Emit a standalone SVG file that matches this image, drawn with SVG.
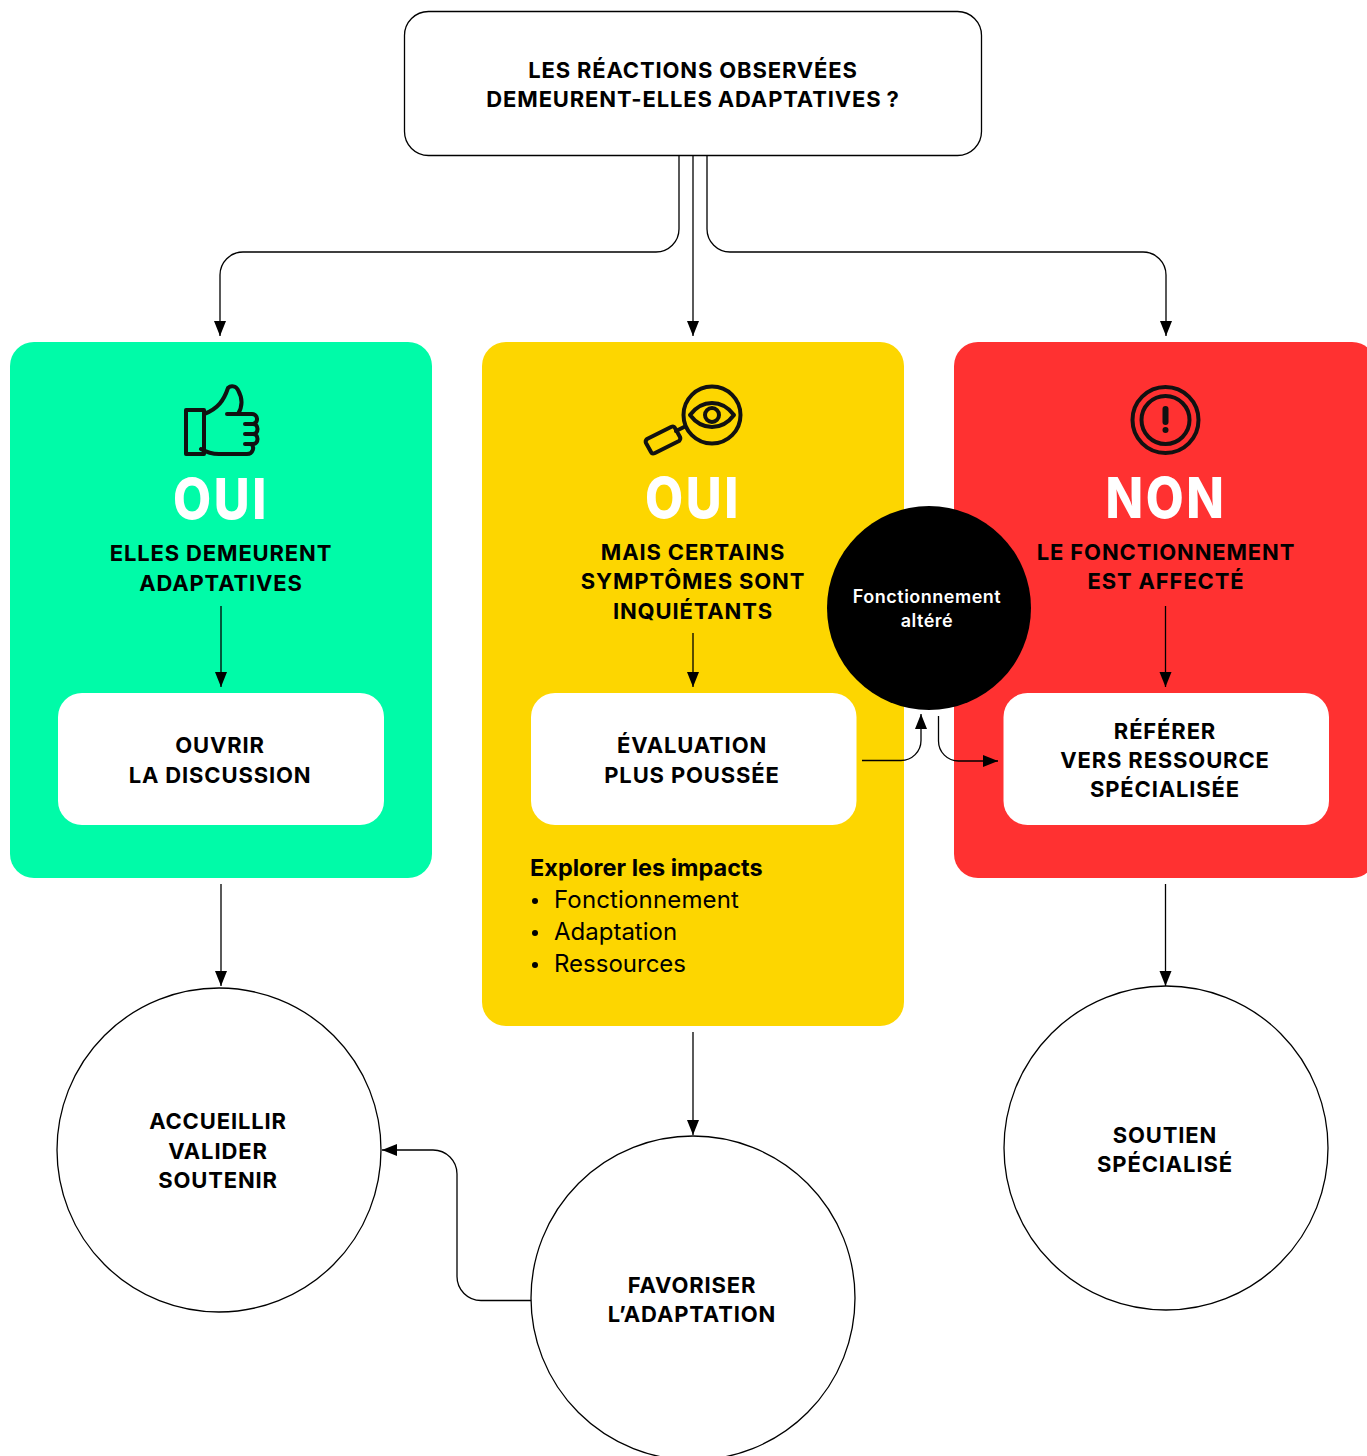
<svg xmlns="http://www.w3.org/2000/svg" width="1367" height="1456" viewBox="0 0 1367 1456">
<style>
text{font-family:"Inter","Liberation Sans",sans-serif;text-anchor:middle;fill:#000}
.t{font-size:22px;font-weight:700;letter-spacing:.85px}
.h{font-size:56px;font-weight:800;fill:#fff;letter-spacing:3px}
.l{font-size:24px;text-anchor:start;letter-spacing:0}
.c{fill:none;stroke:#000;stroke-width:1.3}
.i{fill:none;stroke:#111;stroke-width:4;stroke-linejoin:round;stroke-linecap:round}
.n{fill:#fff;stroke:#000;stroke-width:1.3}
</style>
<defs><marker id="a" markerUnits="userSpaceOnUse" markerWidth="16" markerHeight="14" refX="15" refY="6.500" orient="auto"><path d="M0 .5L15 6.500L0 12.500Z" fill="#000"/></marker></defs>
<rect width="1367" height="1456" fill="#fff"/>
<g id="panel-green"><rect x="10" y="342" width="422" height="536" rx="24" fill="#00fba8"/>
<g transform="translate(-1 0)"><path class="i" d="M187 410h18v44h-18z"/><path class="i" d="M205 414c14-5 20-14 24-26 3-3 8-2 10 2 5 9 5 16 0 24m-11 0h25c6 0 7 9 1 10h-8m8 0c6 0 6 10 0 10h-8m8 0c6 0 6 10 0 10h-8m6 0c4 3 2 10-4 10h-28c-8 0-13-2-18-5"/></g>
<text class="h" x="221" y="519" textLength="96" lengthAdjust="spacingAndGlyphs">OUI</text><text class="t" x="221" y="561">ELLES DEMEURENT</text><text class="t" x="221" y="591">ADAPTATIVES</text></g>
<g id="panel-yellow"><rect x="482" y="342" width="422" height="684" rx="24" fill="#fdd600"/>
<circle class="i" cx="712" cy="415" r="28.500"/><path class="i" d="M690 415c12-16 32-16 44 0c-12 16-32 16-44 0z"/><circle class="i" cx="712" cy="415" r="7"/><path class="i" d="M676 431l8-4"/><g transform="translate(2 0)"><path class="i" d="M645 439l24-12c2-1 3-1 4 1l5 9c1 2 0 3-1 4l-24 12c-2 1-3 1-4-1l-5-9c-1-2 0-3 1-4z"/></g>
<text class="h" x="693" y="518" textLength="96" lengthAdjust="spacingAndGlyphs">OUI</text><text class="t" x="693" y="560">MAIS CERTAINS</text><text class="t" x="693" y="589">SYMPTÔMES SONT</text><text class="t" x="693" y="619">INQUIÉTANTS</text>
<text class="l" x="530" y="876" style="font-weight:700;letter-spacing:0;font-size:23.500px">Explorer les impacts</text>
<text class="l" x="554" y="908" style="letter-spacing:.15px">Fonctionnement</text><text class="l" x="554" y="940">Adaptation</text><text class="l" x="554" y="972">Ressources</text>
<circle cx="535" cy="901" r="3"/><circle cx="535" cy="933" r="3"/><circle cx="535" cy="965" r="3"/></g>
<g id="panel-red"><rect x="954" y="342" width="422" height="536" rx="24" fill="#ff3131"/>
<circle class="i" cx="1165.500" cy="420" r="33"/><circle class="i" cx="1165.500" cy="420" r="24"/><path d="M1165.500 409v13" stroke="#111" stroke-width="6" stroke-linecap="round"/><circle cx="1165.500" cy="430" r="3" fill="#111"/>
<text class="h" x="1166" y="518" textLength="121" lengthAdjust="spacingAndGlyphs">NON</text><text class="t" x="1166" y="560">LE FONCTIONNEMENT</text><text class="t" x="1166" y="589">EST AFFECTÉ</text></g>
<g id="top"><rect class="n" x="404.500" y="11.500" width="577" height="144" rx="24"/><text class="t" x="693" y="78">LES RÉACTIONS OBSERVÉES</text><text class="t" x="693" y="107" style="word-spacing:-1px">DEMEURENT-ELLES ADAPTATIVES ?</text></g>
<g id="box-ouvrir"><rect x="58" y="693" width="326" height="132" rx="24" fill="#fff"/><text class="t" x="220" y="753">OUVRIR</text><text class="t" x="220" y="783">LA DISCUSSION</text></g>
<g id="box-eval"><rect x="531" y="693" width="325.500" height="132" rx="24" fill="#fff"/><text class="t" x="692" y="753">ÉVALUATION</text><text class="t" x="692" y="783">PLUS POUSSÉE</text></g>
<g id="box-referer"><rect x="1003.500" y="693" width="325.500" height="132" rx="24" fill="#fff"/><text class="t" x="1165" y="739">RÉFÉRER</text><text class="t" x="1165" y="768">VERS RESSOURCE</text><text class="t" x="1165" y="797">SPÉCIALISÉE</text></g>
<g id="black"><circle cx="929" cy="608" r="102" fill="#000"/><text x="927" y="603" font-size="18" font-weight="600" style="fill:#fff;letter-spacing:.5px">Fonctionnement</text><text x="927" y="627" font-size="18" font-weight="600" style="fill:#fff;letter-spacing:.5px">altéré</text></g>
<g id="circle-accueillir"><circle class="n" cx="219" cy="1150" r="162"/><text class="t" x="218" y="1129">ACCUEILLIR</text><text class="t" x="218" y="1159">VALIDER</text><text class="t" x="218" y="1188">SOUTENIR</text></g>
<g id="circle-favoriser"><circle class="n" cx="693" cy="1298" r="162"/><text class="t" x="692" y="1293">FAVORISER</text><text class="t" x="692" y="1322">L’ADAPTATION</text></g>
<g id="circle-soutien"><circle class="n" cx="1166" cy="1148" r="162"/><text class="t" x="1165" y="1143">SOUTIEN</text><text class="t" x="1165" y="1172">SPÉCIALISÉ</text></g>
<g id="connectors">
<path class="c" marker-end="url(#a)" d="M679 156V229a23 23 0 0 1-23 23H243a23 23 0 0 0-23 23V336"/>
<path class="c" marker-end="url(#a)" d="M693 156V336"/>
<path class="c" marker-end="url(#a)" d="M707 156V229a23 23 0 0 0 23 23H1143a23 23 0 0 1 23 23V336"/>
<path class="c" marker-end="url(#a)" d="M221 606V687"/>
<path class="c" marker-end="url(#a)" d="M693 633V687"/>
<path class="c" marker-end="url(#a)" d="M1165.500 606V687"/>
<path class="c" marker-end="url(#a)" d="M862 760.500H901a20 20 0 0 0 20-20V714"/>
<path class="c" marker-end="url(#a)" d="M938.500 716V741a20 20 0 0 0 20 20H998"/>
<path class="c" marker-end="url(#a)" d="M221 884V986"/>
<path class="c" marker-end="url(#a)" d="M693 1032V1135"/>
<path class="c" marker-end="url(#a)" d="M1165.500 884V986"/>
<path class="c" marker-end="url(#a)" d="M531 1300.500H481a24 24 0 0 1-24-24V1174a24 24 0 0 0-24-24H382"/>
</g>
</svg>
